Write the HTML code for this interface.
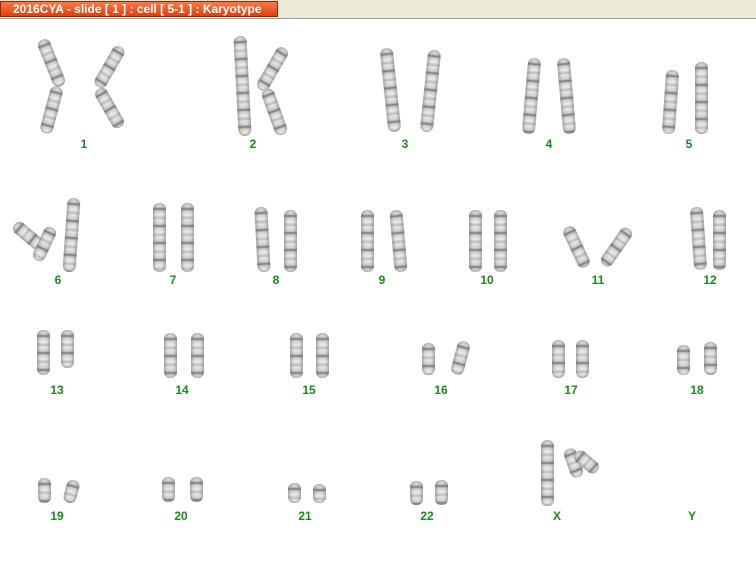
<!DOCTYPE html>
<html><head><meta charset="utf-8"><style>
body{margin:0;width:756px;height:582px;background:#fff;position:relative;overflow:hidden;font-family:"Liberation Sans",Arial,sans-serif}
.hdr{position:absolute;left:0;top:0;width:756px;height:18px;background:#ece9d8;border-bottom:1px solid #a0a0a0}
.ttl{position:absolute;left:0;top:1px;width:278px;height:16px;background:linear-gradient(#f87a4a,#e0400c);border:1px solid #8a2a0a;box-sizing:border-box;color:#fff;font-weight:bold;font-size:12px;line-height:14px;padding-left:12px}
.c{position:absolute;width:13px;border-radius:6px;background:repeating-linear-gradient(#e6e6e6 0,#cfcfcf 4px,#7a7a7a 6px,#d0d0d0 8px,#ececec 12px,#bdbdbd 15px,#e6e6e6 17px);transform-origin:50% 50%;box-shadow:inset 2px 0 2px rgba(120,120,120,.5),inset -2px 0 2px rgba(120,120,120,.5)}
.l{position:absolute;color:#1a8a1a;font-weight:bold;font-size:12px;width:30px;text-align:center;margin-left:-15px}
</style></head><body>
<div class="hdr"><div class="ttl">2016CYA - slide [ 1 ] : cell [ 5-1 ] : Karyotype</div></div>

<div class="c" style="left:45px;top:38px;height:50px;transform:rotate(-22deg)"></div>
<div class="c" style="left:45px;top:86px;height:48px;transform:rotate(15deg)"></div>
<div class="c" style="left:103px;top:44px;height:46px;transform:rotate(30deg)"></div>
<div class="c" style="left:103px;top:86px;height:44px;transform:rotate(-30deg)"></div>
<div class="l" style="left:84px;top:137px">1</div>

<div class="c" style="left:236px;top:36px;height:100px;transform:rotate(-3deg)"></div>
<div class="c" style="left:266px;top:45px;height:48px;transform:rotate(30deg)"></div>
<div class="c" style="left:268px;top:88px;height:48px;transform:rotate(-20deg)"></div>
<div class="l" style="left:253px;top:137px">2</div>

<div class="c" style="left:384px;top:48px;height:84px;transform:rotate(-6deg)"></div>
<div class="c" style="left:424px;top:50px;height:82px;transform:rotate(6deg)"></div>
<div class="l" style="left:405px;top:137px">3</div>

<div class="c" style="left:525px;top:58px;height:76px;transform:rotate(5deg)"></div>
<div class="c" style="left:560px;top:58px;height:76px;transform:rotate(-5deg)"></div>
<div class="l" style="left:549px;top:137px">4</div>

<div class="c" style="left:664px;top:70px;height:64px;transform:rotate(4deg)"></div>
<div class="c" style="left:695px;top:62px;height:72px"></div>
<div class="l" style="left:689px;top:137px">5</div>

<div class="c" style="left:22px;top:218px;height:36px;transform:rotate(-50deg)"></div>
<div class="c" style="left:38px;top:226px;height:36px;transform:rotate(25deg)"></div>
<div class="c" style="left:65px;top:198px;height:74px;transform:rotate(4deg)"></div>
<div class="l" style="left:58px;top:273px">6</div>

<div class="c" style="left:153px;top:203px;height:69px"></div>
<div class="c" style="left:181px;top:203px;height:69px"></div>
<div class="l" style="left:173px;top:273px">7</div>

<div class="c" style="left:256px;top:207px;height:65px;transform:rotate(-3deg)"></div>
<div class="c" style="left:284px;top:210px;height:62px"></div>
<div class="l" style="left:276px;top:273px">8</div>

<div class="c" style="left:361px;top:210px;height:62px"></div>
<div class="c" style="left:392px;top:210px;height:62px;transform:rotate(-5deg)"></div>
<div class="l" style="left:382px;top:273px">9</div>

<div class="c" style="left:469px;top:210px;height:62px"></div>
<div class="c" style="left:494px;top:210px;height:62px"></div>
<div class="l" style="left:487px;top:273px">10</div>

<div class="c" style="left:570px;top:225px;height:44px;transform:rotate(-25deg)"></div>
<div class="c" style="left:610px;top:225px;height:44px;transform:rotate(35deg)"></div>
<div class="l" style="left:598px;top:273px">11</div>

<div class="c" style="left:692px;top:207px;height:63px;transform:rotate(-4deg)"></div>
<div class="c" style="left:713px;top:210px;height:60px"></div>
<div class="l" style="left:710px;top:273px">12</div>

<div class="c" style="left:37px;top:330px;height:45px"></div>
<div class="c" style="left:61px;top:330px;height:38px"></div>
<div class="l" style="left:57px;top:383px">13</div>

<div class="c" style="left:164px;top:333px;height:45px"></div>
<div class="c" style="left:191px;top:333px;height:45px"></div>
<div class="l" style="left:182px;top:383px">14</div>

<div class="c" style="left:290px;top:333px;height:45px"></div>
<div class="c" style="left:316px;top:333px;height:45px"></div>
<div class="l" style="left:309px;top:383px">15</div>

<div class="c" style="left:422px;top:343px;height:32px"></div>
<div class="c" style="left:454px;top:341px;height:34px;transform:rotate(15deg)"></div>
<div class="l" style="left:441px;top:383px">16</div>

<div class="c" style="left:552px;top:340px;height:38px"></div>
<div class="c" style="left:576px;top:340px;height:38px"></div>
<div class="l" style="left:571px;top:383px">17</div>

<div class="c" style="left:677px;top:345px;height:30px"></div>
<div class="c" style="left:704px;top:342px;height:33px"></div>
<div class="l" style="left:697px;top:383px">18</div>

<div class="c" style="left:38px;top:478px;height:25px"></div>
<div class="c" style="left:65px;top:480px;height:23px;transform:rotate(15deg)"></div>
<div class="l" style="left:57px;top:509px">19</div>

<div class="c" style="left:162px;top:477px;height:25px"></div>
<div class="c" style="left:190px;top:477px;height:25px"></div>
<div class="l" style="left:181px;top:509px">20</div>

<div class="c" style="left:288px;top:483px;height:20px"></div>
<div class="c" style="left:313px;top:484px;height:19px"></div>
<div class="l" style="left:305px;top:509px">21</div>

<div class="c" style="left:410px;top:481px;height:24px"></div>
<div class="c" style="left:435px;top:480px;height:25px"></div>
<div class="l" style="left:427px;top:509px">22</div>

<div class="c" style="left:541px;top:440px;height:66px"></div>
<div class="c" style="left:567px;top:448px;height:30px;transform:rotate(-20deg)"></div>
<div class="c" style="left:580px;top:448px;height:28px;transform:rotate(-50deg)"></div>
<div class="l" style="left:557px;top:509px">X</div>

<div class="l" style="left:692px;top:509px">Y</div>
</body></html>
